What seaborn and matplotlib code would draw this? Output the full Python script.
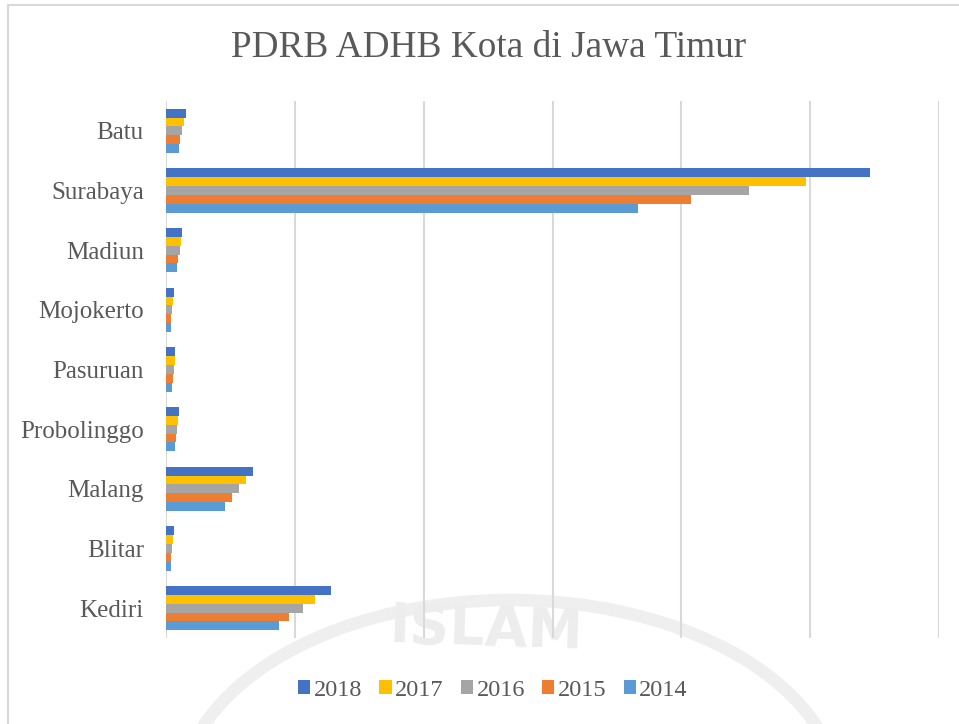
import matplotlib
matplotlib.use("Agg")
import matplotlib.pyplot as plt
import matplotlib.patches as mpatches
import pandas as pd
import seaborn as sns

CITIES = ["Batu", "Surabaya", "Madiun", "Mojokerto", "Pasuruan",
          "Probolinggo", "Malang", "Blitar", "Kediri"]
YEARS = ["2018", "2017", "2016", "2015", "2014"]
COLORS = ["#4472C4", "#FFC000", "#A5A5A5", "#ED7D31", "#5B9BD5"]

# PDRB ADHB (milyar rupiah)
v2018 = [15300, 546300, 12700, 6000, 7200, 10100, 67700, 6000, 128400]
v2017 = [13800, 496500, 11700, 5200, 6800, 9100, 62300, 5400, 116000]
v2016 = [12200, 452700, 10700, 4700, 6000, 8300, 56800, 4700, 106400]
v2015 = [10900, 407200, 9600, 4100, 5400, 7500, 51400, 4100, 95700]
v2014 = [9900, 366300, 8600, 3900, 4900, 7000, 46100, 3900, 87400]

rows = []
for year, vals in zip(YEARS, [v2018, v2017, v2016, v2015, v2014]):
    for city, v in zip(CITIES, vals):
        rows.append({"kota": city, "tahun": year, "pdrb": v})
df = pd.DataFrame(rows)

sns.set_theme(style="white")
plt.rcParams["font.family"] = ["Liberation Serif", "DejaVu Serif"]

fig = plt.figure(figsize=(9.59, 7.24), dpi=100)
ax = fig.add_axes([166 / 959, 1 - 638 / 724, (939 - 166) / 959, (638 - 101) / 724])
ax.set_facecolor("none")

# faint watermark behind the chart
fig.text(487 / 959, 1 - 630 / 724, "ISLAM", color="#ededed", fontsize=40,
         fontweight="bold", family="DejaVu Sans", ha="center", va="center",
         rotation=-2, zorder=-1)
fig.patches.append(mpatches.Arc((510 / 959, 1 - 800 / 724), 660 / 959, 400 / 724,
                                theta1=10, theta2=170, transform=fig.transFigure,
                                color="#efefef", lw=9, zorder=-1))
# figure border
fig.patches.append(mpatches.Rectangle((8 / 959, -0.01), 1.0, 1 - 5 / 724 + 0.01,
                                      transform=fig.transFigure, fill=False,
                                      edgecolor="#d9d9d9", lw=1.5, zorder=-1))

sns.barplot(data=df, y="kota", x="pdrb", hue="tahun", order=CITIES,
            hue_order=YEARS, palette=COLORS, orient="h", width=0.74,
            saturation=1, linewidth=0, ax=ax, zorder=3)

ax.set_xlim(0, 600000)
ax.set_xticks([0, 100000, 200000, 300000, 400000, 500000, 600000])
ax.set_xticklabels([])
ax.grid(axis="x", color="#d9d9d9", lw=1.5, zorder=0)
ax.set_axisbelow(True)
for s in ax.spines.values():
    s.set_visible(False)
ax.tick_params(axis="both", length=0)
ax.tick_params(axis="y", pad=16, labelsize=18, labelcolor="#595959")
ax.set_xlabel("")
ax.set_ylabel("")

fig.text(489 / 959, 1 - 48 / 724, "PDRB ADHB Kota di Jawa Timur",
         ha="center", va="center", fontsize=26.8, color="#595959")

handles, labels = ax.get_legend_handles_labels()
ax.legend_.remove()
fig.legend(handles, labels, loc="center", bbox_to_anchor=(493 / 959, 1 - 690 / 724),
           ncol=5, frameon=False, fontsize=17.5, labelcolor="#595959",
           handlelength=0.5, handleheight=0.5, handletextpad=0.15, columnspacing=0.7)

fig.savefig("out.png", dpi=100)
